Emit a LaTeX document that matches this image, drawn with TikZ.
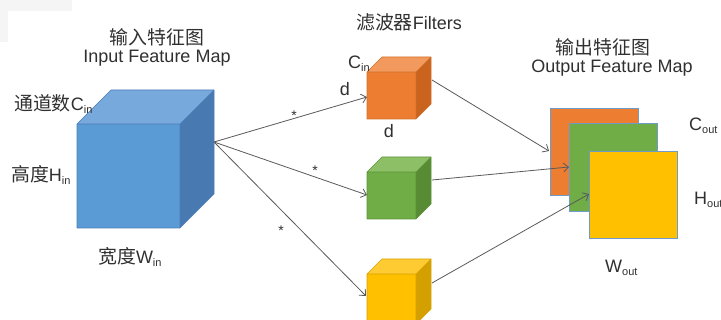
\documentclass[tikz,border=0pt]{standalone}
\usepackage{fontspec}
\setmainfont{Liberation Sans}
\newfontfamily\cjk[Scale=1.05]{Noto Sans CJK SC}
\usetikzlibrary{arrows.meta}
\definecolor{txt}{HTML}{303030}
\definecolor{arr}{HTML}{5A5A5A}
\definecolor{bfront}{HTML}{5B9BD5}
\definecolor{btop}{HTML}{78A9DC}
\definecolor{bside}{HTML}{4879B0}
\definecolor{bbord}{HTML}{4A7EBB}
\definecolor{ofront}{HTML}{ED7D31}
\definecolor{otop}{HTML}{F29A5E}
\definecolor{oside}{HTML}{C9631E}
\definecolor{obord}{HTML}{D2712C}
\definecolor{gfront}{HTML}{70AD47}
\definecolor{gtop}{HTML}{8DC066}
\definecolor{gside}{HTML}{578C35}
\definecolor{gbord}{HTML}{5E943A}
\definecolor{yfront}{HTML}{FFC000}
\definecolor{ytop}{HTML}{FFCB33}
\definecolor{yside}{HTML}{D4A000}
\definecolor{ybord}{HTML}{D9A300}
\definecolor{mapbord}{HTML}{6E9BC8}
\newcommand\lowsub[1]{\raisebox{-0.35ex}{\fontsize{11}{11}\selectfont #1}}
% x1 y1 x2 y2 depth front top side border
\newcommand\drawcube[9]{%
  \fill[#6] (#1,#2) rectangle (#3,#4);
  \fill[#7] (#1,#2) -- (#1+#5,#2-#5) -- (#3+#5,#2-#5) -- (#3,#2) -- cycle;
  \fill[#8] (#3,#2) -- (#3+#5,#2-#5) -- (#3+#5,#4-#5) -- (#3,#4) -- cycle;
  \draw[#9,line width=0.7pt,line join=round] (#1,#2) rectangle (#3,#4)
    (#1,#2) -- (#1+#5,#2-#5) -- (#3+#5,#2-#5) -- (#3+#5,#4-#5) -- (#3,#4)
    (#3,#2) -- (#3+#5,#2-#5);
}
\tikzset{
  lbl/.style={text=txt,font=\fontsize{18}{20}\selectfont,inner sep=0pt},
  star/.style={text=txt,font=\fontsize{14}{14}\selectfont,inner sep=0pt},
  conn/.style={draw=arr,line width=0.8pt,-{Straight Barb[length=5pt,width=9pt]}},
  fmap/.style={draw=mapbord,line width=0.8pt},
}
\begin{document}
\begin{tikzpicture}[x=1pt,y=-1pt]
\useasboundingbox (0,0) rectangle (721,320);
\fill[white] (0,0) rectangle (721,320);
% faint screenshot edge at top-left
\fill[gray!8] (0,0) rectangle (72,11);
\fill[gray!8] (0,0) rectangle (8,42);
\begin{scope}
\clip (0,0) rectangle (721,320);
% input cube
\drawcube{77}{124}{180}{228}{34}{bfront}{btop}{bside}{bbord}
% filters
\drawcube{367}{72}{416}{119}{15}{ofront}{otop}{oside}{obord}
\drawcube{367}{172}{416}{219}{15}{gfront}{gtop}{gside}{gbord}
\drawcube{367}{274}{416}{324}{15}{yfront}{ytop}{yside}{ybord}
\end{scope}
% output feature maps
\fill[ofront] (550,108) rectangle (638,195);
\draw[fmap] (550,108) rectangle (638,195);
\fill[gfront] (569,123) rectangle (657,211);
\draw[fmap] (569,123) rectangle (657,211);
\fill[yfront] (589,151) rectangle (677,238);
\draw[fmap] (589,151) rectangle (677,238);
% anchor coordinates
\coordinate (inR) at (214,142);
\coordinate (fO) at (367,97);
\coordinate (fG) at (367,195);
\coordinate (fY) at (366,296);
\coordinate (fOr) at (432,80);
\coordinate (fGr) at (432,180);
\coordinate (fYr) at (432,283);
\coordinate (oO) at (549,151);
\coordinate (oG) at (569,167);
\coordinate (oY) at (589,194);
\draw[conn] (inR) -- (fO);
\draw[conn] (inR) -- (fG);
\draw[conn] (inR) -- (fY);
\draw[conn] (fOr) -- (oO);
\draw[conn] (fGr) -- (oG);
\draw[conn] (fYr) -- (oY);
% labels
\node[lbl] (t1) at (157,37) {\cjk 输入特征图};
\node[lbl] (t2) at (157,58) {Input Feature Map};
\node[lbl,anchor=west] (cin) at (14,104) {{\cjk 通道数}C\lowsub{in}};
\node[lbl,anchor=west] (hin) at (11,175) {{\cjk 高度}H\lowsub{in}};
\node[lbl,anchor=west] (win) at (98,257) {{\cjk 宽度}W\lowsub{in}};
\node[lbl] (t3) at (409,22) {{\cjk 滤波器}Filters};
\node[lbl,anchor=west] (fc) at (348,64) {C\lowsub{in}};
\node[lbl] (d1) at (345,89) {d};
\node[lbl] (d2) at (389,131) {d};
\node[star] (s1) at (294,116) {*};
\node[star] (s2) at (315,171) {*};
\node[star] (s3) at (281,231) {*};
\node[lbl] (t4) at (603,47) {\cjk 输出特征图};
\node[lbl] (t5) at (612,68) {Output Feature Map};
\node[lbl,anchor=west] (cout) at (689,126) {C\lowsub{out}};
\node[lbl,anchor=west] (hout) at (694,200) {H\lowsub{out}};
\node[lbl,anchor=west] (wout) at (605,268) {W\lowsub{out}};
\end{tikzpicture}
\end{document}
